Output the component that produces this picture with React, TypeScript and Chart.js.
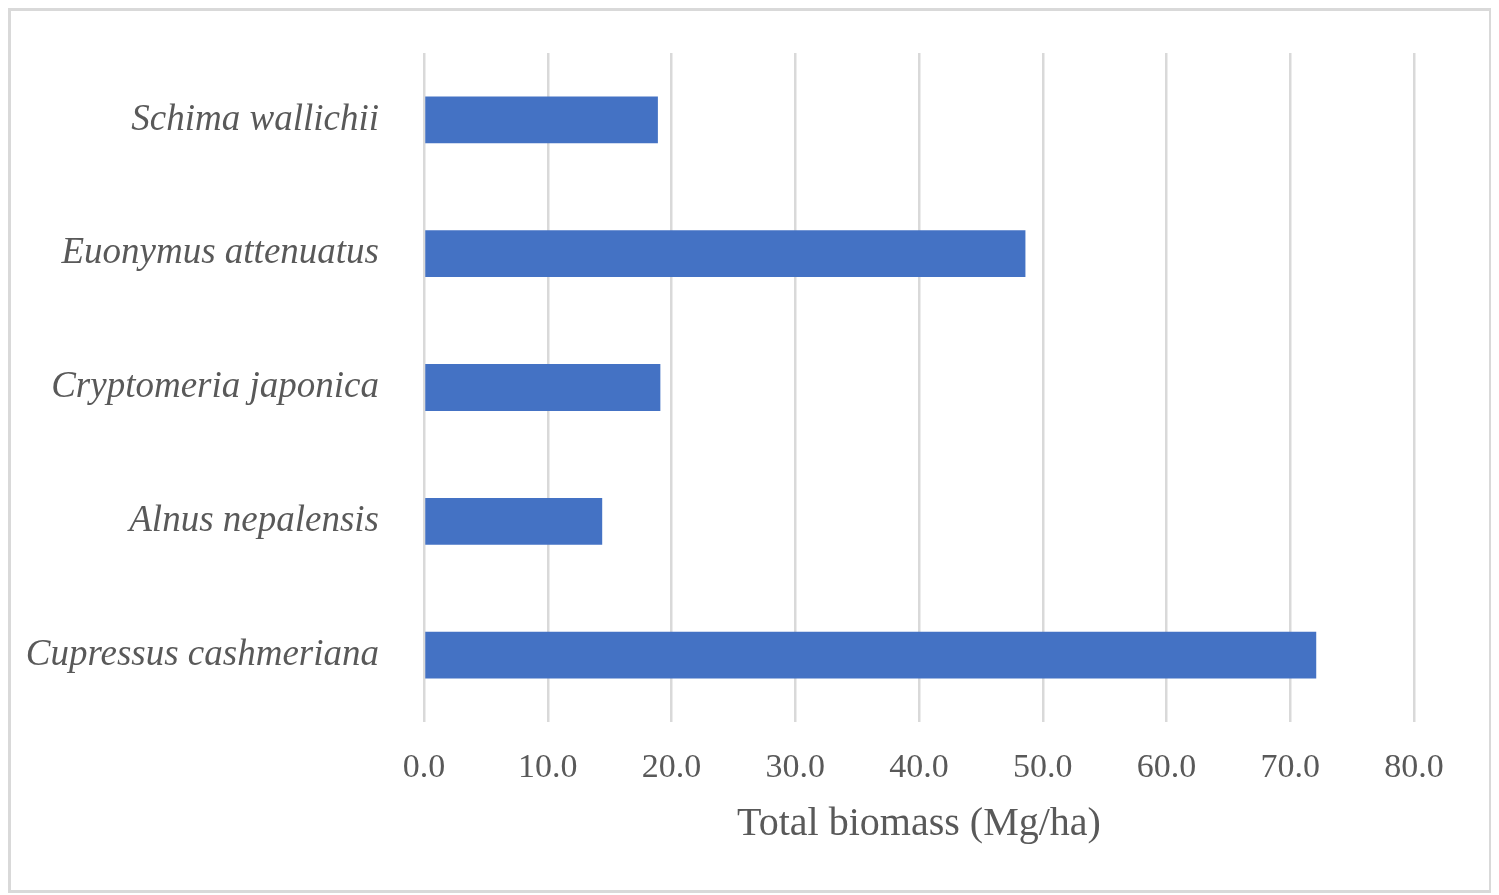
import React, { useEffect, useRef } from "react";
import { Chart, registerables } from "chart.js";

Chart.register(...registerables);

const species = [
  "Schima wallichii",
  "Euonymus attenuatus",
  "Cryptomeria japonica",
  "Alnus nepalensis",
  "Cupressus cashmeriana",
];
const totalBiomass = [18.9, 48.6, 19.1, 14.4, 72.1];
const axisMin = 0;
const axisMax = 80;
const axisStep = 10;
const axisTitle = "Total biomass (Mg/ha)";

export default function App() {
  const canvasRef = useRef<HTMLCanvasElement | null>(null);

  useEffect(() => {
    if (!canvasRef.current) return;
    const chart = new Chart(canvasRef.current, {
      type: "bar",
      data: {
        labels: species,
        datasets: [
          {
            data: totalBiomass,
            backgroundColor: "#4472C4",
            borderWidth: 0,
            barPercentage: 0.35,
            categoryPercentage: 1,
          },
        ],
      },
      options: {
        indexAxis: "y",
        animation: false,
        responsive: false,
        maintainAspectRatio: false,
        layout: { padding: { top: 42, right: 75, bottom: 38, left: 0 } },
        plugins: {
          legend: { display: false },
          tooltip: { enabled: false },
        },
        scales: {
          x: {
            min: axisMin,
            max: axisMax,
            ticks: {
              stepSize: axisStep,
              padding: 26,
              color: "#595959",
              font: { family: "Liberation Serif", size: 34 },
              callback: (v: any) => Number(v).toFixed(1),
            },
            grid: {
              color: "#d9d9d9",
              lineWidth: 2.5,
              drawTicks: false,
            },
            border: { display: false },
            title: {
              display: true,
              text: axisTitle,
              color: "#595959",
              font: { family: "Liberation Serif", size: 40 },
              padding: { top: 0, bottom: 4 },
            },
            afterFit: (scale: any) => {
              scale.height = 130;
              scale.paddingLeft = 0;
              scale.paddingRight = 0;
            },
          },
          y: {
            ticks: {
              padding: 37,
              color: "#595959",
              font: { family: "Liberation Serif", size: 37, style: "italic" },
            },
            grid: { display: false },
            border: { display: false },
            afterFit: (scale: any) => {
              scale.width = 413;
              scale.paddingTop = 0;
              scale.paddingBottom = 0;
            },
          },
        },
      },
    });
    return () => chart.destroy();
  }, []);

  return (
    <div
      style={{
        width: 1478,
        height: 879,
        border: "3px solid #d9d9d9",
        background: "#ffffff",
      }}
    >
      <canvas ref={canvasRef} width={1478} height={879} style={{ display: "block" }} />
    </div>
  );
}
